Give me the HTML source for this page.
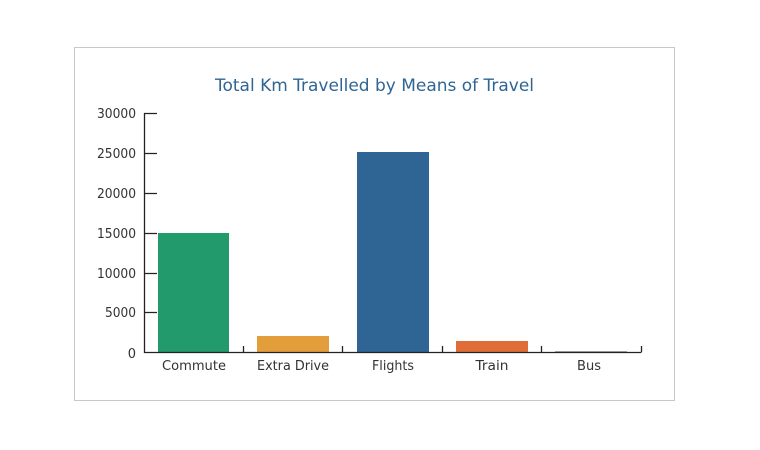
<!DOCTYPE html>
<html><head><style>body{margin:0;background:#fff}svg{display:block}</style></head><body>
<svg width="760" height="450" xmlns="http://www.w3.org/2000/svg" font-family="'DejaVu Sans', sans-serif">
<rect x="74.5" y="47.5" width="600" height="353" fill="#fff" stroke="#c8c8c8"/>
<text x="215" y="91" textLength="319" lengthAdjust="spacingAndGlyphs" font-size="17" fill="#2e6594">Total Km Travelled by Means of Travel</text>
<g fill="#333" font-size="13" text-anchor="end">
<text x="136" y="118" textLength="39" lengthAdjust="spacingAndGlyphs">30000</text><text x="136" y="158" textLength="39" lengthAdjust="spacingAndGlyphs">25000</text><text x="136" y="198" textLength="39" lengthAdjust="spacingAndGlyphs">20000</text>
<text x="136" y="238" textLength="39" lengthAdjust="spacingAndGlyphs">15000</text><text x="136" y="278" textLength="39" lengthAdjust="spacingAndGlyphs">10000</text><text x="136" y="317" textLength="31" lengthAdjust="spacingAndGlyphs">5000</text><text x="136" y="358">0</text>
</g>
<rect x="158" y="233" width="71" height="119" fill="#239a6c"/>
<rect x="257" y="336" width="72" height="16" fill="#e49d3b"/>
<rect x="357" y="152" width="72" height="200" fill="#2e6594"/>
<rect x="456" y="341" width="72" height="11" fill="#e06d37"/>
<rect x="555" y="351" width="72" height="1" fill="#aaa"/>
<g stroke="#222" stroke-width="1.3" fill="none">
<path d="M144.5 113V352.5H641.5"/>
<path d="M144 113.5h13M144 153.5h13M144 193.5h13M144 233.5h13M144 273.5h13M144 312.5h13"/>
<path d="M243.5 352v-6M342.5 352v-6M442.5 352v-6M541.5 352v-6M641.5 352v-6"/>
</g>
<g fill="#333" font-size="13" text-anchor="middle">
<text x="194" y="370" textLength="64" lengthAdjust="spacingAndGlyphs">Commute</text><text x="293" y="370" textLength="72" lengthAdjust="spacingAndGlyphs">Extra Drive</text><text x="393" y="370" textLength="42" lengthAdjust="spacingAndGlyphs">Flights</text>
<text x="492" y="370" textLength="33" lengthAdjust="spacingAndGlyphs">Train</text><text x="589" y="370" textLength="24" lengthAdjust="spacingAndGlyphs">Bus</text>
</g>
</svg>
</body></html>
